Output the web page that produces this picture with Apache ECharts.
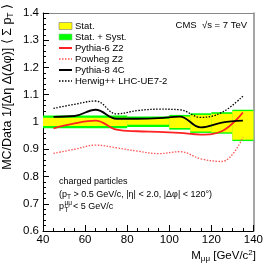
<!DOCTYPE html>
<html><head><meta charset="utf-8">
<script src="https://cdn.jsdelivr.net/npm/echarts@6/dist/echarts.min.js"></script>
<style>html,body{margin:0;padding:0;background:#fff}#c{width:266px;height:266px}</style>
</head><body><div id="c"></div>
<script>
// ---- data ----
const mass = [45, 55, 65, 75, 85, 95, 105, 115, 125, 135];
const pythia6Z2 = [0.977, 0.995, 1.005, 0.972, 0.966, 0.964, 0.960, 0.954, 0.966, 1.035];
const powhegZ2  = [0.885, 0.900, 0.915, 0.905, 0.893, 0.884, 0.891, 0.865, 0.855, 0.944];
const pythia84C = [1.019, 1.022, 1.045, 1.012, 1.012, 1.014, 1.020, 0.980, 0.998, 1.005];
const herwig    = [1.050, 1.065, 1.077, 1.030, 1.042, 1.047, 1.045, 1.017, 1.035, 1.095];

const binLo  = [40, 60, 80, 100, 110, 120, 130];
const binHi  = [60, 80, 100, 110, 120, 130, 140];
const statLo = [0.985, 0.985, 0.990, 0.978, 0.965, 0.962, 0.935];
const statHi = [1.016, 1.016, 1.012, 1.020, 1.026, 1.030, 1.040];
const systLo = [0.977, 0.977, 0.982, 0.972, 0.960, 0.957, 0.930];
const systHi = [1.024, 1.024, 1.020, 1.026, 1.032, 1.036, 1.045];

const xTickLabels = [40, 60, 80, 100, 120, 140];
const yTickLabels = [0.6, 0.7, 0.8, 0.9, 1, 1.1, 1.2, 1.3, 1.4];

const legendNames = ['Stat.', 'Stat. + Syst.', 'Pythia-6 Z2', 'Powheg Z2', 'Pythia-8 4C', 'Herwig++ LHC-UE7-2'];

// ---- chart ----
const FONT = "'Liberation Sans', Arial, sans-serif";
const chart = echarts.init(document.getElementById('c'), null, {renderer: 'canvas'});

function pairs(ys) { return mass.map((m, i) => [m, ys[i]]); }
function bandData(lo, hi) { return binLo.map((l, i) => [l, binHi[i], lo[i], hi[i]]); }
function bandRender(color) {
  return function (params, api) {
    const p1 = api.coord([api.value(0), api.value(3)]);
    const p2 = api.coord([api.value(1), api.value(2)]);
    return {type: 'rect', shape: {x: p1[0], y: p1[1], width: p2[0] - p1[0], height: p2[1] - p1[1]},
            style: {fill: color}};
  };
}

const rich = {
  n: {fontSize: 11.5, fontFamily: FONT, color: '#000', lineHeight: 14},
  s: {fontSize: 8, fontFamily: FONT, color: '#000', lineHeight: 8, verticalAlign: 'bottom'},
  p: {fontSize: 8, fontFamily: FONT, color: '#000', lineHeight: 8, verticalAlign: 'top'}
};
const richY = {
  n: {fontSize: 12.5, fontFamily: FONT, color: '#000', lineHeight: 15},
  s: {fontSize: 8.5, fontFamily: FONT, color: '#000', lineHeight: 8, verticalAlign: 'bottom'}
};
const richSmall = {
  n: {fontSize: 9, fontFamily: FONT, color: '#000', lineHeight: 12},
  s: {fontSize: 6.5, fontFamily: FONT, color: '#000', lineHeight: 7, verticalAlign: 'bottom'},
  p: {fontSize: 6.5, fontFamily: FONT, color: '#000', lineHeight: 7, verticalAlign: 'top'}
};

const legendY = [26, 37, 48, 59, 70, 81];
const legendGraphics = [];
legendGraphics.push({type: 'rect', shape: {x: 59, y: legendY[0] - 3.5, width: 13, height: 7},
  style: {fill: '#ffff00', stroke: '#777', lineWidth: 0.6}});
legendGraphics.push({type: 'rect', shape: {x: 59, y: legendY[1] - 3, width: 13, height: 6},
  style: {fill: '#00ff00', stroke: '#8c8', lineWidth: 0.6}});
const legendLines = [
  {color: '#ff2222', w: 2, dash: null},
  {color: '#ff5555', w: 1.3, dash: [1.5, 1.5]},
  {color: '#000', w: 2, dash: null},
  {color: '#000', w: 1.3, dash: [1.5, 1.5]}
];
legendLines.forEach((l, i) => {
  legendGraphics.push({type: 'line', shape: {x1: 59, y1: legendY[i + 2], x2: 72, y2: legendY[i + 2]},
    style: {stroke: l.color, lineWidth: l.w, lineDash: l.dash}});
});
legendNames.forEach((name, i) => {
  legendGraphics.push({type: 'text', x: 75, y: legendY[i],
    style: {text: name, font: '9.5px ' + FONT, fill: '#000', align: 'left', verticalAlign: 'middle',
            textAlign: 'left', textVerticalAlign: 'middle'}});
});

const option = {
  animation: false,
  backgroundColor: '#fff',
  grid: {left: 43, right: 10, top: 13, bottom: 35},
  xAxis: [{
    type: 'value', min: 40, max: 140, interval: 20,
    axisLine: {show: true, onZero: false, lineStyle: {color: '#000', width: 1}},
    axisTick: {show: true, inside: true, length: 6, lineStyle: {color: '#000'}},
    minorTick: {show: true, splitNumber: 4, length: 3, lineStyle: {color: '#000'}},
    splitLine: {show: false},
    axisLabel: {fontSize: 11.5, fontFamily: FONT, color: '#000', margin: 3,
      formatter: v => (xTickLabels.indexOf(v) >= 0 ? String(v) : '')}
  }, {
    type: 'value', position: 'top', min: 40, max: 140, interval: 20,
    axisLine: {show: true, onZero: false, lineStyle: {color: '#888', width: 1.2}},
    axisTick: {show: false}, axisLabel: {show: false}, splitLine: {show: false}
  }],
  yAxis: [{
    type: 'value', min: 0.6, max: 1.4, interval: 0.1,
    axisLine: {show: true, onZero: false, lineStyle: {color: '#000', width: 1}},
    axisTick: {show: true, inside: true, length: 6, lineStyle: {color: '#000'}},
    minorTick: {show: true, splitNumber: 5, length: 3, lineStyle: {color: '#000'}},
    splitLine: {show: false},
    axisLabel: {fontSize: 11.5, fontFamily: FONT, color: '#000', margin: 4,
      formatter: v => {
        const r = Math.round(v * 10) / 10;
        return yTickLabels.indexOf(r) >= 0 ? String(r) : '';
      }}
  }, {
    type: 'value', position: 'right', min: 0.6, max: 1.4, interval: 0.1,
    axisLine: {show: true, onZero: false, lineStyle: {color: '#888', width: 1.5}},
    axisTick: {show: false}, axisLabel: {show: false}, splitLine: {show: false}
  }],
  series: [
    {type: 'custom', name: 'Stat. + Syst.', renderItem: bandRender('#00ff00'), data: bandData(systLo, systHi),
     encode: {x: [0, 1], y: [2, 3]}, z: 1, silent: true},
    {type: 'custom', name: 'Stat.', renderItem: bandRender('#ffff00'), data: bandData(statLo, statHi),
     encode: {x: [0, 1], y: [2, 3]}, z: 2, silent: true},
    {type: 'line', name: 'Pythia-6 Z2', data: pairs(pythia6Z2), smooth: 0.4, showSymbol: false, z: 3,
     lineStyle: {color: '#ff2222', width: 1.8}},
    {type: 'line', name: 'Powheg Z2', data: pairs(powhegZ2), smooth: 0.4, showSymbol: false, z: 3,
     lineStyle: {color: '#ff5555', width: 1.3, type: [1.5, 1.5]}},
    {type: 'line', name: 'Pythia-8 4C', data: pairs(pythia84C), smooth: 0.4, showSymbol: false, z: 4,
     lineStyle: {color: '#000', width: 1.8}},
    {type: 'line', name: 'Herwig++ LHC-UE7-2', data: pairs(herwig), smooth: 0.4, showSymbol: false, z: 4,
     lineStyle: {color: '#000', width: 1.3, type: [1.5, 1.5]}}
  ],
  graphic: [
    {type: 'text', x: 8, y: 4, rotation: Math.PI / 2,
     style: {text: '{n|MC/Data 1/[Δη Δ(Δφ)] ⟨ Σ p}{s|T}{n| ⟩}', rich: richY,
             align: 'right', verticalAlign: 'middle', textAlign: 'right', textVerticalAlign: 'middle'}},
    {type: 'text', x: 256, y: 256,
     style: {text: '{n|M}{s|μμ}{n| [GeV/c}{p|2}{n|]}', rich: rich,
             align: 'right', verticalAlign: 'middle', textAlign: 'right', textVerticalAlign: 'middle'}},
    {type: 'text', x: 247, y: 25,
     style: {text: 'CMS  √s = 7 TeV', font: '9.5px ' + FONT, fill: '#000',
             align: 'right', verticalAlign: 'middle', textAlign: 'right', textVerticalAlign: 'middle'}},
    {type: 'text', x: 59, y: 182,
     style: {text: 'charged particles', font: '9px ' + FONT, fill: '#000',
             align: 'left', verticalAlign: 'middle', textAlign: 'left', textVerticalAlign: 'middle'}},
    {type: 'text', x: 59, y: 195,
     style: {text: '{n|(p}{s|T}{n| > 0.5 GeV/c, |η| < 2.0, |Δφ| < 120°)}', rich: richSmall,
             align: 'left', verticalAlign: 'middle', textAlign: 'left', textVerticalAlign: 'middle'}},
    {type: 'text', x: 59, y: 207,
     style: {text: 'p', font: '9px ' + FONT, fill: '#000',
             align: 'left', verticalAlign: 'middle', textAlign: 'left', textVerticalAlign: 'middle'}},
    {type: 'text', x: 64.5, y: 203,
     style: {text: 'μμ', font: '6.5px ' + FONT, fill: '#000',
             align: 'left', verticalAlign: 'middle', textAlign: 'left', textVerticalAlign: 'middle'}},
    {type: 'text', x: 64.5, y: 210,
     style: {text: 'T', font: '6.5px ' + FONT, fill: '#000',
             align: 'left', verticalAlign: 'middle', textAlign: 'left', textVerticalAlign: 'middle'}},
    {type: 'text', x: 73, y: 207,
     style: {text: '< 5 GeV/c', font: '9px ' + FONT, fill: '#000',
             align: 'left', verticalAlign: 'middle', textAlign: 'left', textVerticalAlign: 'middle'}}
  ].concat(legendGraphics)
};
chart.setOption(option);
</script>
</body></html>
